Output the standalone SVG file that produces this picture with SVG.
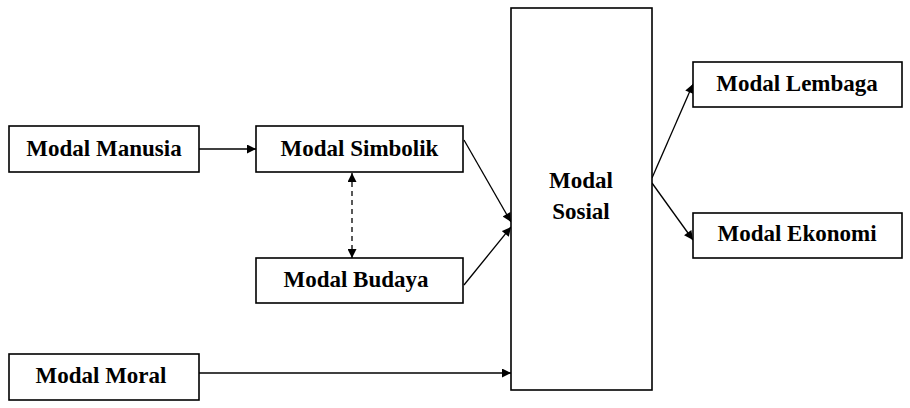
<svg xmlns="http://www.w3.org/2000/svg" width="910" height="408" viewBox="0 0 910 408">
<style>
.box{fill:#fff;stroke:#000;stroke-width:1.6}
.t{font-family:"Liberation Serif","Times New Roman",serif;font-weight:bold;font-size:23px;fill:#000;text-anchor:middle}
.c{fill:none;stroke:#000;stroke-width:1.3}
.d{stroke-dasharray:5,4}
</style>
<defs>
<marker id="ah" viewBox="0 0 10 10" refX="10" refY="5" markerWidth="11" markerHeight="9" markerUnits="userSpaceOnUse" orient="auto-start-reverse">
<path d="M0,0 L10,5 L0,10 z" fill="#000"/>
</marker>
</defs>
<rect width="910" height="408" fill="#fff"/>
<g id="connectors">
<line class="c" x1="199" y1="149" x2="256" y2="149" marker-end="url(#ah)"/>
<line class="c d" x1="352" y1="173" x2="352" y2="258" marker-start="url(#ah)" marker-end="url(#ah)"/>
<line class="c" x1="464" y1="140" x2="511" y2="222" marker-end="url(#ah)"/>
<line class="c" x1="464" y1="285" x2="511" y2="227" marker-end="url(#ah)"/>
<line class="c" x1="199" y1="373" x2="511" y2="373" marker-end="url(#ah)"/>
<line class="c" x1="652" y1="178" x2="693" y2="84" marker-end="url(#ah)"/>
<line class="c" x1="652" y1="183" x2="693" y2="240" marker-end="url(#ah)"/>
</g>
<g id="manusia"><rect class="box" x="9" y="126" width="190" height="46"/><text class="t" x="104" y="156">Modal Manusia</text></g>
<g id="simbolik"><rect class="box" x="256" y="126" width="207" height="46"/><text class="t" x="359.5" y="156">Modal Simbolik</text></g>
<g id="budaya"><rect class="box" x="256" y="258" width="207" height="45"/><text class="t" x="356" y="287">Modal Budaya</text></g>
<g id="moral"><rect class="box" x="9" y="354" width="190" height="46"/><text class="t" x="101" y="383">Modal Moral</text></g>
<g id="sosial"><rect class="box" x="511" y="8" width="141" height="382"/><text class="t" x="581" y="188">Modal</text><text class="t" x="581" y="219">Sosial</text></g>
<g id="lembaga"><rect class="box" x="693" y="62" width="209" height="45"/><text class="t" x="797" y="91">Modal Lembaga</text></g>
<g id="ekonomi"><rect class="box" x="693" y="213" width="209" height="45"/><text class="t" x="797" y="241">Modal Ekonomi</text></g>
</svg>
